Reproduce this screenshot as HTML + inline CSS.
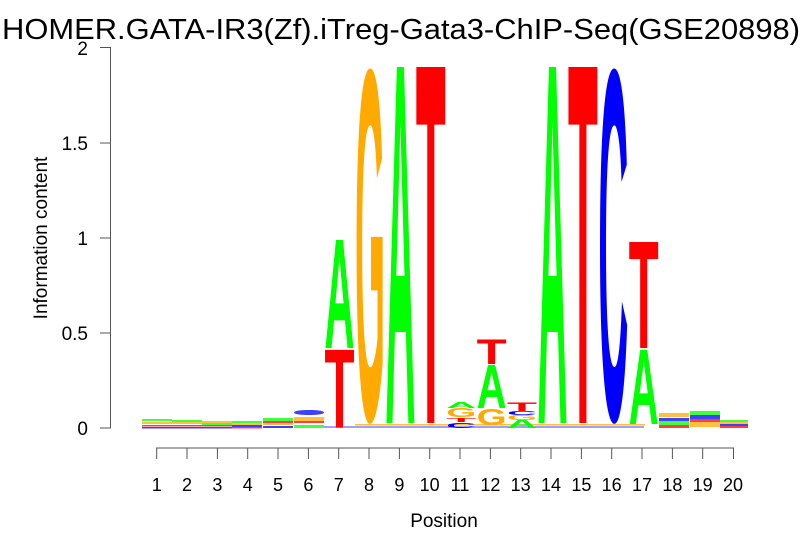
<!DOCTYPE html>
<html><head><meta charset="utf-8"><style>
html,body{margin:0;padding:0;background:#fff}
svg{display:block;font-family:"Liberation Sans",sans-serif}
.l{font-family:"Liberation Sans",sans-serif;font-weight:bold;font-size:100px}
</style></head><body>
<svg width="806" height="559" viewBox="0 0 806 559" xmlns="http://www.w3.org/2000/svg">
<text x="2" y="39" font-size="29" textLength="798" lengthAdjust="spacingAndGlyphs">HOMER.GATA-IR3(Zf).iTreg-Gata3-ChIP-Seq(GSE20898)</text>
<g stroke="#555" stroke-width="1" fill="none">
<path d="M100,47.5H110.5V428H100M100,333H110.5M100,238H110.5M100,143H110.5"/>
<path d="M156.7,459V448H733.5V459M187,448V459M217.4,448V459M247.7,448V459M278,448V459M308.4,448V459M338.7,448V459M369,448V459M399.4,448V459M429.7,448V459M460,448V459M490.4,448V459M520.7,448V459M551,448V459M581.4,448V459M611.7,448V459M642,448V459M672.4,448V459M702.7,448V459"/>
</g>
<g font-size="19" text-anchor="end">
<text x="88" y="435">0</text><text x="88" y="340">0.5</text><text x="88" y="245">1</text><text x="88" y="150">1.5</text><text x="88" y="55">2</text>
</g>
<text transform="translate(47,238) rotate(-90)" font-size="19" text-anchor="middle">Information content</text>
<g font-size="18" text-anchor="middle">
<text x="156.7" y="491">1</text><text x="187" y="491">2</text><text x="217.4" y="491">3</text><text x="247.7" y="491">4</text><text x="278" y="491">5</text><text x="308.4" y="491">6</text><text x="338.7" y="491">7</text><text x="369" y="491">8</text><text x="399.4" y="491">9</text><text x="429.7" y="491">10</text><text x="460" y="491">11</text><text x="490.4" y="491">12</text><text x="520.7" y="491">13</text><text x="551" y="491">14</text><text x="581.4" y="491">15</text><text x="611.7" y="491">16</text><text x="642" y="491">17</text><text x="672.4" y="491">18</text><text x="702.7" y="491">19</text><text x="733" y="491">20</text>
</g>
<text x="444" y="527" font-size="19" text-anchor="middle">Position</text>
<g opacity="0.75">
<rect x="142" y="419" width="30" height="2" fill="#0f0"/><rect x="142" y="422" width="30" height="2" fill="#fa0"/><rect x="142" y="425" width="30" height="1.5" fill="#f00"/><rect x="142" y="427" width="30" height="1.5" fill="#00f"/>
<rect x="172" y="420" width="30" height="2" fill="#0f0"/><rect x="172" y="422" width="30" height="2" fill="#fa0"/><rect x="172" y="425" width="30" height="1.5" fill="#f00"/><rect x="172" y="427" width="30" height="1.5" fill="#00f"/>
<rect x="202" y="421" width="30" height="2" fill="#fa0"/><rect x="202" y="423" width="30" height="2" fill="#0f0"/><rect x="202" y="425" width="30" height="1.5" fill="#f00"/><rect x="202" y="427" width="30" height="1.5" fill="#00f"/>
<rect x="232" y="421" width="30" height="2" fill="#0f0"/><rect x="232" y="423" width="30" height="2" fill="#fa0"/><rect x="232" y="425" width="30" height="2" fill="#00f"/><rect x="232" y="427" width="30" height="1.5" fill="#f00"/>
<rect x="263" y="418" width="30" height="3" fill="#0f0"/><rect x="263" y="421" width="30" height="2" fill="#f00"/><rect x="263" y="423" width="30" height="2" fill="#fa0"/><rect x="263" y="426" width="30" height="2" fill="#00f"/>
<rect x="294" y="410" width="30" height="5" fill="#00f" rx="12"/><rect x="294" y="417" width="30" height="4" fill="#fa0"/><rect x="294" y="421" width="30" height="2" fill="#f00"/><rect x="294" y="425" width="30" height="3" fill="#0f0"/>
<rect x="659" y="413" width="30" height="4" fill="#fa0"/><rect x="659" y="418" width="30" height="3" fill="#00f"/><rect x="659" y="421" width="30" height="4" fill="#0f0"/><rect x="659" y="425" width="30" height="3" fill="#f00"/>
<rect x="690" y="411" width="30" height="4" fill="#0f0"/><rect x="690" y="415" width="30" height="4" fill="#00f"/><rect x="690" y="419" width="30" height="3" fill="#f00"/><rect x="690" y="422" width="30" height="5" fill="#fa0"/>
<rect x="720" y="420" width="28" height="2" fill="#0f0"/><rect x="720" y="422" width="28" height="2" fill="#fa0"/><rect x="720" y="424" width="28" height="2" fill="#00f"/><rect x="720" y="426" width="28" height="2" fill="#f00"/>
<rect x="355" y="424" width="290" height="1.5" fill="#fa0"/><rect x="324" y="426.5" width="320" height="1" fill="#00f"/>
</g>
<g class="l">
<text fill="#f00" textLength="100" lengthAdjust="spacingAndGlyphs" transform="translate(324.5,428) scale(0.3,1.134)">T</text>
<text fill="#0f0" textLength="100" lengthAdjust="spacingAndGlyphs" transform="translate(324.5,348) scale(0.3,1.569)">A</text>
<text fill="#fa0" textLength="100" lengthAdjust="spacingAndGlyphs" transform="translate(355,419) scale(0.3,5.02)">G</text>
<text fill="#0f0" textLength="100" lengthAdjust="spacingAndGlyphs" transform="translate(385.4,423) scale(0.3,5.174)">A</text>
<text fill="#f00" textLength="100" lengthAdjust="spacingAndGlyphs" transform="translate(415.8,423) scale(0.3,5.174)">T</text>
<text fill="#00f" textLength="100" lengthAdjust="spacingAndGlyphs" transform="translate(446.2,428) scale(0.3,0.073)">C</text>
<text fill="#f00" textLength="100" lengthAdjust="spacingAndGlyphs" transform="translate(446.2,422) scale(0.3,0.058)">T</text>
<text fill="#fa0" textLength="100" lengthAdjust="spacingAndGlyphs" transform="translate(446.2,417) scale(0.3,0.13)">G</text>
<text fill="#0f0" textLength="100" lengthAdjust="spacingAndGlyphs" transform="translate(446.2,408) scale(0.3,0.087)">A</text>
<text fill="#fa0" textLength="100" lengthAdjust="spacingAndGlyphs" transform="translate(476.6,425) scale(0.3,0.232)">G</text>
<text fill="#0f0" textLength="100" lengthAdjust="spacingAndGlyphs" transform="translate(476.6,408) scale(0.3,0.625)">A</text>
<text fill="#f00" textLength="100" lengthAdjust="spacingAndGlyphs" transform="translate(476.6,364) scale(0.3,0.349)">T</text>
<text fill="#0f0" textLength="100" lengthAdjust="spacingAndGlyphs" transform="translate(507,428) scale(0.3,0.117)">A</text>
<text fill="#fa0" textLength="100" lengthAdjust="spacingAndGlyphs" transform="translate(507,420) scale(0.3,0.073)">G</text>
<text fill="#00f" textLength="100" lengthAdjust="spacingAndGlyphs" transform="translate(507,415) scale(0.3,0.058)">C</text>
<text fill="#f00" textLength="100" lengthAdjust="spacingAndGlyphs" transform="translate(507,411) scale(0.3,0.117)">T</text>
<text fill="#0f0" textLength="100" lengthAdjust="spacingAndGlyphs" transform="translate(537.5,423) scale(0.3,5.174)">A</text>
<text fill="#f00" textLength="100" lengthAdjust="spacingAndGlyphs" transform="translate(567.9,423) scale(0.3,5.174)">T</text>
<text fill="#00f" textLength="100" lengthAdjust="spacingAndGlyphs" transform="translate(598.3,419) scale(0.3,5.02)">C</text>
<text fill="#0f0" textLength="100" lengthAdjust="spacingAndGlyphs" transform="translate(628.7,424) scale(0.3,1.075)">A</text>
<text fill="#f00" textLength="100" lengthAdjust="spacingAndGlyphs" transform="translate(628.7,348) scale(0.3,1.541)">T</text>
</g>
</svg>
</body></html>
